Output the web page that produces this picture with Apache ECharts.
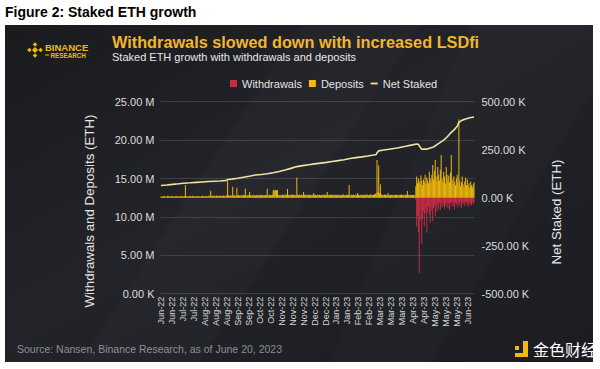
<!DOCTYPE html>
<html><head><meta charset="utf-8">
<script src="https://cdn.jsdelivr.net/npm/echarts@6/dist/echarts.min.js"></script>
<style>html,body{margin:0;padding:0;background:#fff}#c{width:600px;height:369px}</style>
</head><body><div id="c"></div>
<script>
// ---- data ----
const startDate = '2022-06-14';
const dayCount = 372;
const labelEvery = 13;
const monthNames = ['Jan','Feb','Mar','Apr','May','Jun','Jul','Aug','Sep','Oct','Nov','Dec'];
const depositsK = [
6,8,5,7,9,6,5,8,10,7,6,5,9,7,8,6,5,7,9,8,
6,7,5,8,6,9,7,5,8,66,7,6,8,5,9,7,6,8,10,7,
5,8,6,7,9,6,8,5,7,10,6,8,7,9,5,8,6,12,9,36,
8,10,7,12,9,8,11,7,9,10,8,12,9,7,11,8,10,9,13,88,
12,9,14,10,11,57,12,10,13,9,52,11,14,10,12,13,9,15,11,13,
47,12,10,14,11,30,13,10,12,15,11,13,10,14,12,16,11,13,12,15,
10,14,12,13,16,11,47,13,12,15,14,11,16,38,41,35,42,37,40,14,
12,15,13,11,16,14,12,18,13,15,45,14,12,16,13,15,17,12,14,16,
13,105,15,12,17,14,13,16,12,30,15,13,14,17,12,15,13,16,14,12,
15,25,13,16,12,14,17,13,15,12,16,14,13,15,17,12,14,30,13,16,
12,15,14,13,17,12,16,14,13,15,12,16,14,13,12,15,17,13,14,12,
16,13,15,66,14,12,16,13,15,14,12,17,13,25,15,12,14,16,13,15,
12,14,17,13,15,16,12,14,18,13,15,14,16,17,20,22,196,30,168,25,
70,18,14,16,13,15,17,12,14,25,13,16,12,15,14,13,17,12,15,14,
16,13,12,15,14,17,13,16,12,14,15,13,35,14,16,12,15,13,14,16,
14,12,
60,110,75,100,85,70,115,90,65,95,
80,120,70,105,90,75,135,100,80,120,
170,95,140,197,110,85,160,120,90,145,
222,100,80,135,110,75,160,120,90,115,
80,130,222,95,70,110,85,65,100,120,
75,408,90,60,80,110,70,55,85,105,
65,95,60,75,50,85,65,55,70,80
];
const withdrawalsStartIdx = 302;
const withdrawalsK = [
15,151,95,180,392,120,60,238,110,70,
150,85,60,183,75,45,90,130,50,70,
120,55,40,95,45,70,30,60,25,65,
30,50,22,40,60,28,45,20,55,30,
65,28,25,45,20,40,60,25,35,18,
50,28,40,20,55,25,35,18,45,28,
20,40,25,45,18,30,40,20,35,25
];
// [day index, net staked in millions]
const netStakedPoints = [
[0,14.09],[7,14.16],[14,14.24],[21,14.31],[27,14.38],[35,14.44],[42,14.5],[49,14.55],[56,14.6],
[63,14.64],[70,14.68],[77,14.73],[79,14.86],[84,14.92],[91,15.03],[98,15.17],[106,15.32],[112,15.45],
[119,15.53],[126,15.62],[133,15.76],[140,15.92],[147,16.1],[154,16.32],[161,16.55],[168,16.68],
[175,16.8],[182,16.9],[189,17.0],[196,17.1],[203,17.22],[210,17.33],[217,17.44],[224,17.6],[231,17.72],
[238,17.82],[245,17.93],[252,18.05],[255,18.12],[256,18.35],[258,18.6],[262,18.68],[270,18.8],[280,18.98],
[290,19.2],[298,19.38],[303,19.5],[305,19.45],[307,19.1],[309,18.8],[312,18.85],[315,18.82],[319,18.97],
[323,19.1],[327,19.4],[331,19.7],[335,20.0],[339,20.4],[343,20.9],[347,21.3],[351,21.8],[353,22.3],
[357,22.6],[361,22.75],[366,22.9],[371,23.0]
];
const leftAxis = {min: 0, max: 25, interval: 5};
const rightAxis = {min: -500, max: 500, interval: 250};

// ---- build ----
const categories = [];
const d0 = new Date(startDate + 'T00:00:00Z').getTime();
for (let i = 0; i < dayCount; i++) categories.push(new Date(d0 + i * 86400000).toISOString().slice(0, 10));
const fmtCat = s => monthNames[+s.slice(5, 7) - 1] + '-' + s.slice(2, 4);
const withdrawalsData = withdrawalsK.map((v, i) => [withdrawalsStartIdx + i, -v]);

const AX = '"Liberation Sans", Arial, sans-serif';
const chart = echarts.init(document.getElementById('c'), null, {renderer: 'svg'});
chart.setOption({
  animation: false,
  backgroundColor: '#ffffff',
  grid: {left: 160.5, right: 125.5, top: 101.7, bottom: 75.3},
  legend: {
    left: 225, top: 73, itemWidth: 7, itemHeight: 7, itemGap: 7,
    textStyle: {color: '#e4e4e4', fontSize: 11, fontFamily: AX},
    data: [{name: 'Withdrawals', icon: 'rect'}, {name: 'Deposits', icon: 'rect'},
           {name: 'Net Staked', icon: 'path://M0,0M0,2.6H7V4.4H0ZM7,7', itemStyle: {color: '#efe2a2'}}]
  },
  xAxis: {
    type: 'category', data: categories, boundaryGap: true,
    axisLine: {show: false}, axisTick: {show: false},
    axisLabel: {
      interval: (i) => i % labelEvery === 0, rotate: 90, margin: 3,
      color: '#d6d6d6', fontSize: 9, fontFamily: AX, formatter: fmtCat
    },
    splitLine: {show: false}
  },
  yAxis: [
    {type: 'value', min: leftAxis.min, max: leftAxis.max, interval: leftAxis.interval,
     axisLine: {show: false}, axisTick: {show: false},
     axisLabel: {margin: 6, color: '#dcdcdc', fontSize: 11, fontFamily: AX,
       formatter: v => v === 0 ? '0.00 K' : v.toFixed(2) + ' M'},
     splitLine: {show: true, lineStyle: {color: 'rgba(255,255,255,0.13)', width: 1}}},
    {type: 'value', min: rightAxis.min, max: rightAxis.max, interval: rightAxis.interval, position: 'right',
     axisLine: {show: false}, axisTick: {show: false},
     axisLabel: {margin: 7, color: '#dcdcdc', fontSize: 11, fontFamily: AX,
       formatter: v => v.toFixed(2) + ' K'},
     splitLine: {show: false}}
  ],
  series: [
    {name: 'Withdrawals', type: 'bar', yAxisIndex: 1, data: withdrawalsData, barWidth: '55%', barGap: '-100%',
     itemStyle: {color: '#c92d45'}, z: 3},
    {name: 'Deposits', type: 'bar', yAxisIndex: 1, data: depositsK, barWidth: '55%', barGap: '-100%',
     itemStyle: {color: '#f0b90b'}, z: 3},
    {name: 'Net Staked', type: 'line', yAxisIndex: 0, data: netStakedPoints, symbol: 'none', showSymbol: false,
     lineStyle: {color: '#efe2a2', width: 1.6}, itemStyle: {color: '#efe2a2'}, z: 5}
  ],
  graphic: {elements: [
    {type: 'text', x: 5, y: 12, z: 1, style: {text: 'Figure 2: Staked ETH growth', fill: '#000',
      font: 'bold 14px ' + AX, verticalAlign: 'middle'}},
    {type: 'rect', shape: {x: 5, y: 25, width: 588, height: 337}, z: -10,
      style: {fill: {type: 'linear', x: 0, y: 0, x2: 1, y2: 1, colorStops: [
        {offset: 0, color: '#1a1b1f'}, {offset: 0.45, color: '#232429'}, {offset: 0.6, color: '#202126'}, {offset: 1, color: '#1c1d21'}]}}},
    {type: 'polygon', z: -9, shape: {points: [[300, 25], [420, 25], [200, 362], [80, 362]]}, style: {fill: 'rgba(255,255,255,0.018)'}},
    {type: 'polygon', z: -9, shape: {points: [[470, 25], [593, 25], [593, 90], [430, 362], [330, 362]]}, style: {fill: 'rgba(255,255,255,0.015)'}},
    // logo
    {type: 'group', x: 35, y: 50, z: 5, children: [
      {type: 'rect', shape: {x: -2.2, y: -2.2, width: 4.4, height: 4.4}, rotation: Math.PI / 4, style: {fill: '#f0b90b'}},
      {type: 'rect', shape: {x: -1.6, y: -1.6, width: 3.2, height: 3.2}, x: 0, y: -5.6, rotation: Math.PI / 4, style: {fill: '#f0b90b'}},
      {type: 'rect', shape: {x: -1.6, y: -1.6, width: 3.2, height: 3.2}, x: 0, y: 5.6, rotation: Math.PI / 4, style: {fill: '#f0b90b'}},
      {type: 'rect', shape: {x: -1.6, y: -1.6, width: 3.2, height: 3.2}, x: -5.6, y: 0, rotation: Math.PI / 4, style: {fill: '#f0b90b'}},
      {type: 'rect', shape: {x: -1.6, y: -1.6, width: 3.2, height: 3.2}, x: 5.6, y: 0, rotation: Math.PI / 4, style: {fill: '#f0b90b'}}
    ]},
    {type: 'text', x: 45, y: 47, z: 5, style: {text: 'BINANCE', fill: '#f0b90b', font: 'bold 9.5px ' + AX, verticalAlign: 'middle'}},
    {type: 'rect', z: 5, shape: {x: 45, y: 54.5, width: 4, height: 1}, style: {fill: '#f0b90b'}},
    {type: 'text', x: 50.5, y: 55, z: 5, style: {text: 'RESEARCH', fill: '#f0b90b', font: 'bold 6.3px ' + AX, verticalAlign: 'middle'}},
    // titles
    {type: 'text', x: 112, y: 41.5, z: 5, style: {text: 'Withdrawals slowed down with increased LSDfi', fill: '#f3b52c',
      font: 'bold 16.3px ' + AX, verticalAlign: 'middle'}},
    {type: 'text', x: 112, y: 56.5, z: 5, style: {text: 'Staked ETH growth with withdrawals and deposits', fill: '#e8e8e8',
      font: '11px ' + AX, verticalAlign: 'middle'}},
    // axis titles
    {type: 'text', x: 89, y: 211, rotation: Math.PI / 2, z: 5, style: {text: 'Withdrawals and Deposits (ETH)', fill: '#e6e6e6',
      font: '13.3px ' + AX, align: 'center', verticalAlign: 'middle'}},
    {type: 'text', x: 556, y: 212, rotation: Math.PI / 2, z: 5, style: {text: 'Net Staked (ETH)', fill: '#e6e6e6',
      font: '13.3px ' + AX, align: 'center', verticalAlign: 'middle'}},
    // footer
    {type: 'text', x: 17, y: 349, z: 5, style: {text: 'Source: Nansen, Binance Research, as of June 20, 2023', fill: '#8d8f94',
      font: '10.5px ' + AX, verticalAlign: 'middle'}},
    {type: 'group', x: 515, y: 341, z: 5, children: [
      {type: 'rect', shape: {x: 0, y: 5, width: 4, height: 4}, style: {fill: '#f0b90b'}},
      {type: 'rect', shape: {x: 8, y: 0, width: 5, height: 16}, style: {fill: '#f0b90b'}},
      {type: 'rect', shape: {x: 0, y: 12, width: 13, height: 4}, style: {fill: '#f0b90b'}}
    ]},
    {type: 'text', x: 533, y: 349, z: 5, style: {text: '金色财经', fill: '#ffffff',
      font: '16px "Noto Sans CJK SC"', verticalAlign: 'middle'}}
  ]}
});
</script></body></html>
